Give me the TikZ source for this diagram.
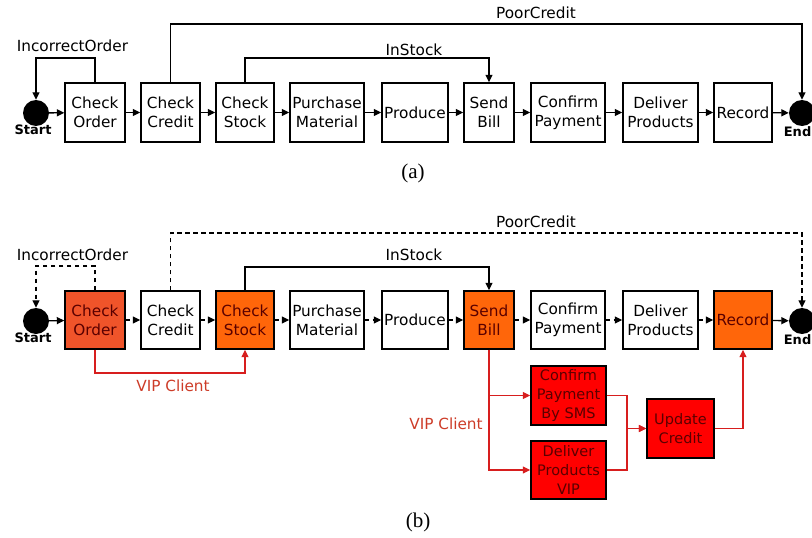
\documentclass[tikz,border=0pt]{standalone}
\usepackage{fontspec}
\setmainfont{DejaVu Sans}
\newfontfamily\capfont{Liberation Serif}
\usetikzlibrary{arrows.meta}
\definecolor{ordfill}{RGB}{240,84,42}
\definecolor{orgfill}{RGB}{255,102,10}
\definecolor{redfill}{RGB}{255,0,0}
\definecolor{darktxt}{RGB}{90,0,0}
\definecolor{vipline}{RGB}{215,30,30}
\definecolor{viptxt}{RGB}{205,60,40}
\begin{document}
\begin{tikzpicture}[x=1pt,y=-1pt,
  box/.style={draw=black, line width=1.4pt, fill=white, align=center, inner sep=0pt,
              font=\fontsize{15.3}{19}\selectfont},
  hot/.style={box, fill=orgfill, text=darktxt},
  hotb/.style={box, fill=ordfill, text=darktxt},
  vipbox/.style={box, fill=redfill, text=darktxt, font=\fontsize{14.5}{19}\selectfont},
  dot/.style={circle, fill=black, minimum size=26pt, inner sep=0pt},
  endlab/.style={font=\fontsize{13}{13}\selectfont\bfseries, inner sep=0pt},
  lab/.style={font=\fontsize{15.3}{15}\selectfont, inner sep=0pt},
  conn/.style={line width=1.3pt, -{Triangle[length=7.5pt,width=7pt]}},
  dsh/.style={dash pattern=on 4.5pt off 3.5pt},
  vip/.style={line width=1.2pt, draw=vipline, -{Triangle[length=7.5pt,width=7pt]}},
  captext/.style={font=\capfont\fontsize{21}{21}\selectfont, inner sep=0pt}
]
\useasboundingbox (0,0) rectangle (812,538);

% ---------------- (a) ----------------
\node[dot] (Sa) at (36,113) {};
\node[endlab] (Sla) at (33,130) {Start};
\node[box, minimum width=60pt, minimum height=59pt] (COa) at (95,112.5) {Check\\Order};
\node[box, minimum width=59pt, minimum height=59pt] (CCa) at (170.5,112.5) {Check\\Credit};
\node[box, minimum width=58pt, minimum height=59pt] (CSa) at (245,112.5) {Check\\Stock};
\node[box, minimum width=74pt, minimum height=59pt] (PMa) at (327,112.5) {Purchase\\Material};
\node[box, minimum width=66pt, minimum height=59pt] (PRa) at (415,112.5) {Produce};
\node[box, minimum width=50pt, minimum height=59pt] (SBa) at (489,112.5) {Send\\Bill};
\node[box, minimum width=74pt, minimum height=59pt] (CPa) at (568,112.5) {Confirm\\Payment};
\node[box, minimum width=75pt, minimum height=59pt] (DPa) at (660.5,112.5) {Deliver\\Products};
\node[box, minimum width=58pt, minimum height=59pt] (REa) at (743,112.5) {Record};
\node[dot] (Ea) at (802,113) {};
\node[endlab, anchor=east] (Ela) at (811.5,132) {End};

\draw[conn] (Sa) -- (COa);
\draw[conn] (COa) -- (CCa);
\draw[conn] (CCa) -- (CSa);
\draw[conn] (CSa) -- (PMa);
\draw[conn] (PMa) -- (PRa);
\draw[conn] (PRa) -- (SBa);
\draw[conn] (SBa) -- (CPa);
\draw[conn] (CPa) -- (DPa);
\draw[conn] (DPa) -- (REa);
\draw[conn] (REa) -- (Ea);

\coordinate (ioa) at (36,58);
\draw[conn] (COa.north) |- (ioa) -- (Sa.north);
\node[lab] (IOla) at (72.5,46) {IncorrectOrder};
\coordinate (pca) at (802,24);
\draw[conn] (CCa.north) |- (pca) -- (Ea.north);
\node[lab] (PCla) at (536,13) {PoorCredit};
\coordinate (isa) at (489,58);
\draw[conn] (CSa.north) |- (isa) -- (SBa.north);
\node[lab] (ISla) at (414,50) {InStock};

\node[captext] (capa) at (413,173) {(a)};

% ---------------- (b) ----------------
\node[dot] (Sb) at (36,321) {};
\node[endlab] (Slb) at (33,338) {Start};
\node[hotb, minimum width=60pt, minimum height=58pt] (COb) at (95,320) {Check\\Order};
\node[box, minimum width=59pt, minimum height=58pt] (CCb) at (170.5,320) {Check\\Credit};
\node[hot, minimum width=58pt, minimum height=58pt] (CSb) at (245,320) {Check\\Stock};
\node[box, minimum width=74pt, minimum height=58pt] (PMb) at (327,320) {Purchase\\Material};
\node[box, minimum width=66pt, minimum height=58pt] (PRb) at (415,320) {Produce};
\node[hot, minimum width=50pt, minimum height=58pt] (SBb) at (489,320) {Send\\Bill};
\node[box, minimum width=74pt, minimum height=58pt] (CPb) at (568,320) {Confirm\\Payment};
\node[box, minimum width=75pt, minimum height=58pt] (DPb) at (660.5,320) {Deliver\\Products};
\node[hot, minimum width=58pt, minimum height=58pt] (REb) at (743,320) {Record};
\node[dot] (Eb) at (802,321) {};
\node[endlab, anchor=east] (Elb) at (811.5,340) {End};

\draw[conn] (Sb) -- (COb);
\draw[conn,dsh] (COb) -- (CCb);
\draw[conn,dsh] (CCb) -- (CSb);
\draw[conn,dsh] (CSb) -- (PMb);
\draw[conn,dsh] (PMb) -- (PRb);
\draw[conn,dsh] (PRb) -- (SBb);
\draw[conn,dsh] (SBb) -- (CPb);
\draw[conn,dsh] (CPb) -- (DPb);
\draw[conn,dsh] (DPb) -- (REb);
\draw[conn] (REb) -- (Eb);

\coordinate (iob) at (36,266);
\draw[conn,dsh] (COb.north) |- (iob) -- (Sb.north);
\node[lab] (IOlb) at (72.5,255) {IncorrectOrder};
\coordinate (pcb) at (802,233);
\draw[conn,dsh] (CCb.north) |- (pcb) -- (Eb.north);
\node[lab] (PClb) at (536,222) {PoorCredit};
\coordinate (isb) at (489,267);
\draw[conn] (CSb.north) |- (isb) -- (SBb.north);
\node[lab] (ISlb) at (414,255) {InStock};

% VIP branch 1
\coordinate (v1) at (95,373);
\draw[vip] (COb.south) -- (v1) -| (CSb.south);
\node[lab, text=viptxt] (vl1) at (173,386) {VIP Client};

% VIP branch 2
\node[vipbox, minimum width=75pt, minimum height=59pt] (CMb) at (568.5,395.5) {Confirm\\Payment\\By SMS};
\node[vipbox, minimum width=75pt, minimum height=58pt] (DVb) at (568.5,470) {Deliver\\Products\\VIP};
\node[vipbox, minimum width=67pt, minimum height=59pt] (UCb) at (680.5,428.5) {Update\\Credit};
\draw[vip] (SBb.south) |- (CMb.west);
\draw[vip] (SBb.south) |- (DVb.west);
\coordinate (jn) at (627,428.5);
\draw[vip] (CMb.east) -| (jn) -- (UCb.west);
\draw[vip] (DVb.east) -| (jn) -- (UCb.west);
\draw[vip] (UCb.east) -| (REb.south);
\node[lab, text=viptxt] (vl2) at (446,424) {VIP Client};

\node[captext] (capb) at (418,522) {(b)};
\end{tikzpicture}
\end{document}
